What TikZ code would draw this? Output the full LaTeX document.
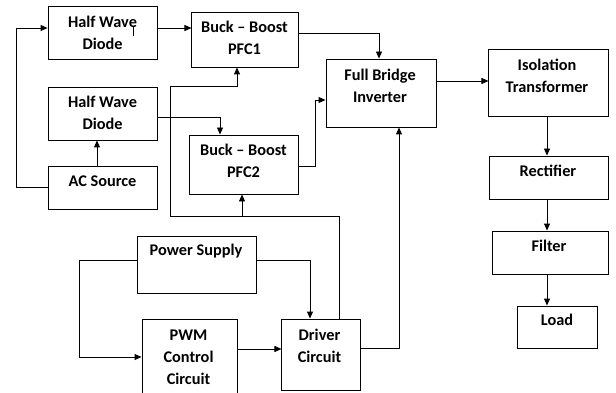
\documentclass[tikz,border=0pt]{standalone}
\usepackage{fontspec}
\setmainfont{Carlito}
\usetikzlibrary{arrows.meta}
\begin{document}
\begin{tikzpicture}[x=1pt,y=-1pt,line width=0.9pt,
  box/.style={draw,rectangle,inner sep=0pt},
  lbl/.style={font=\fontsize{16.3}{22}\selectfont\bfseries,align=center,inner sep=0pt},
  arr/.style={-{Triangle[length=7pt,width=6pt]}}]
\useasboundingbox (0,0) rectangle (616,393);
\fill[white] (0,0) rectangle (616,393);
\clip (0,0) rectangle (616,393);
% boxes
\node[box,minimum width=109pt,minimum height=53pt] (hw1) at (102.5,32.5) {};
\node[box,minimum width=107pt,minimum height=55pt] (pfc1) at (244.5,39.5) {};
\node[box,minimum width=109pt,minimum height=53pt] (hw2) at (102.5,113.5) {};
\node[box,minimum width=109pt,minimum height=43pt] (ac) at (102.5,187.5) {};
\node[box,minimum width=109pt,minimum height=59pt] (pfc2) at (243.5,164.5) {};
\node[box,minimum width=110pt,minimum height=68pt] (fbi) at (381,93) {};
\node[box,minimum width=120pt,minimum height=67pt] (it) at (548,82.5) {};
\node[box,minimum width=119pt,minimum height=43pt] (rect) at (548.5,177.5) {};
\node[box,minimum width=116pt,minimum height=43pt] (filt) at (550,252.5) {};
\node[box,minimum width=80pt,minimum height=42pt] (load) at (557,327) {};
\node[box,minimum width=119pt,minimum height=57pt] (ps) at (196.5,264.5) {};
\node[box,minimum width=95pt,minimum height=91pt] (pwm) at (189.5,364.5) {};
\node[box,minimum width=79pt,minimum height=71pt] (drv) at (320.5,354.5) {};
% labels
\node[lbl] (thw1) at (102.5,33) {Half Wave\\Diode};
\node[lbl] (tpfc1) at (244.5,38) {Buck – Boost\\PFC1};
\node[lbl] (thw2) at (102.5,113) {Half Wave\\Diode};
\node[lbl] (tac) at (102.5,181) {AC Source};
\node[lbl] (tpfc2) at (243.5,161) {Buck – Boost\\PFC2};
\node[lbl] (tfbi) at (380,86) {Full Bridge\\Inverter};
\node[lbl] (tit) at (547,76) {Isolation\\Transformer};
\node[lbl] (trect) at (548,171) {Rectifier};
\node[lbl] (tfilt) at (549,246) {Filter};
\node[lbl] (tload) at (557,320) {Load};
\node[lbl] (tps) at (196,251) {Power Supply};
\node[lbl] (tpwm) at (188.5,357) {PWM\\Control\\Circuit};
\node[lbl] (tdrv) at (319.5,346) {Driver\\Circuit};
% cursor mark
\draw[line width=0.8pt] (133,26) -- (133,36);
% connectors
\draw[arr] (ac.west) -- ++(-31,0) |- ([yshift=4.5pt]hw1.west);
\draw[arr] ([xshift=-5.5pt]ac.north) -- ([xshift=-5.5pt]hw2.south);
\draw[arr] ([yshift=4.5pt]hw1.east) -- ++(34,0);
\draw[arr] ([yshift=-3.5pt]hw2.east) -| ([xshift=-23.5pt]pfc2.north);
\draw[arr] ([yshift=6.5pt]pfc1.east) -| ([xshift=-2pt]fbi.north);
\draw[arr] ([yshift=-1.5pt]pfc2.east) -- ++(17,0) |- ([yshift=-7pt]fbi.west);
\draw[arr] ([yshift=12pt]fbi.east) -- ++(52,0);
\draw[arr] ([xshift=-1pt]it.south) -- ([xshift=-1.5pt]rect.north);
\draw[arr] ([xshift=-1.5pt]rect.south) -- ([xshift=-3pt]filt.north);
\draw[arr] ([xshift=-3pt]filt.south) -- ([xshift=-10pt]load.north);
\draw[arr] ([yshift=6.5pt]drv.east) -| ([xshift=18pt]fbi.south);
\coordinate (j) at (242,217);
\draw[arr] ([xshift=18.5pt]drv.north) -- ++(0,-102) -- ++(-169,0) -- ++(0,-130) -| ([xshift=-7.5pt]pfc1.south);
\draw[arr] (j) -- ([xshift=-1.5pt]pfc2.south);
\draw[arr] ([yshift=4.5pt]ps.east) -| ([xshift=-10.5pt]drv.north);
\draw[arr] ([yshift=4.5pt]ps.west) -- ++(-57,0) |- ([yshift=7.5pt]pwm.west);
\draw[arr] ([yshift=15.5pt]pwm.east) -- ++(44,0);
\end{tikzpicture}
\end{document}
